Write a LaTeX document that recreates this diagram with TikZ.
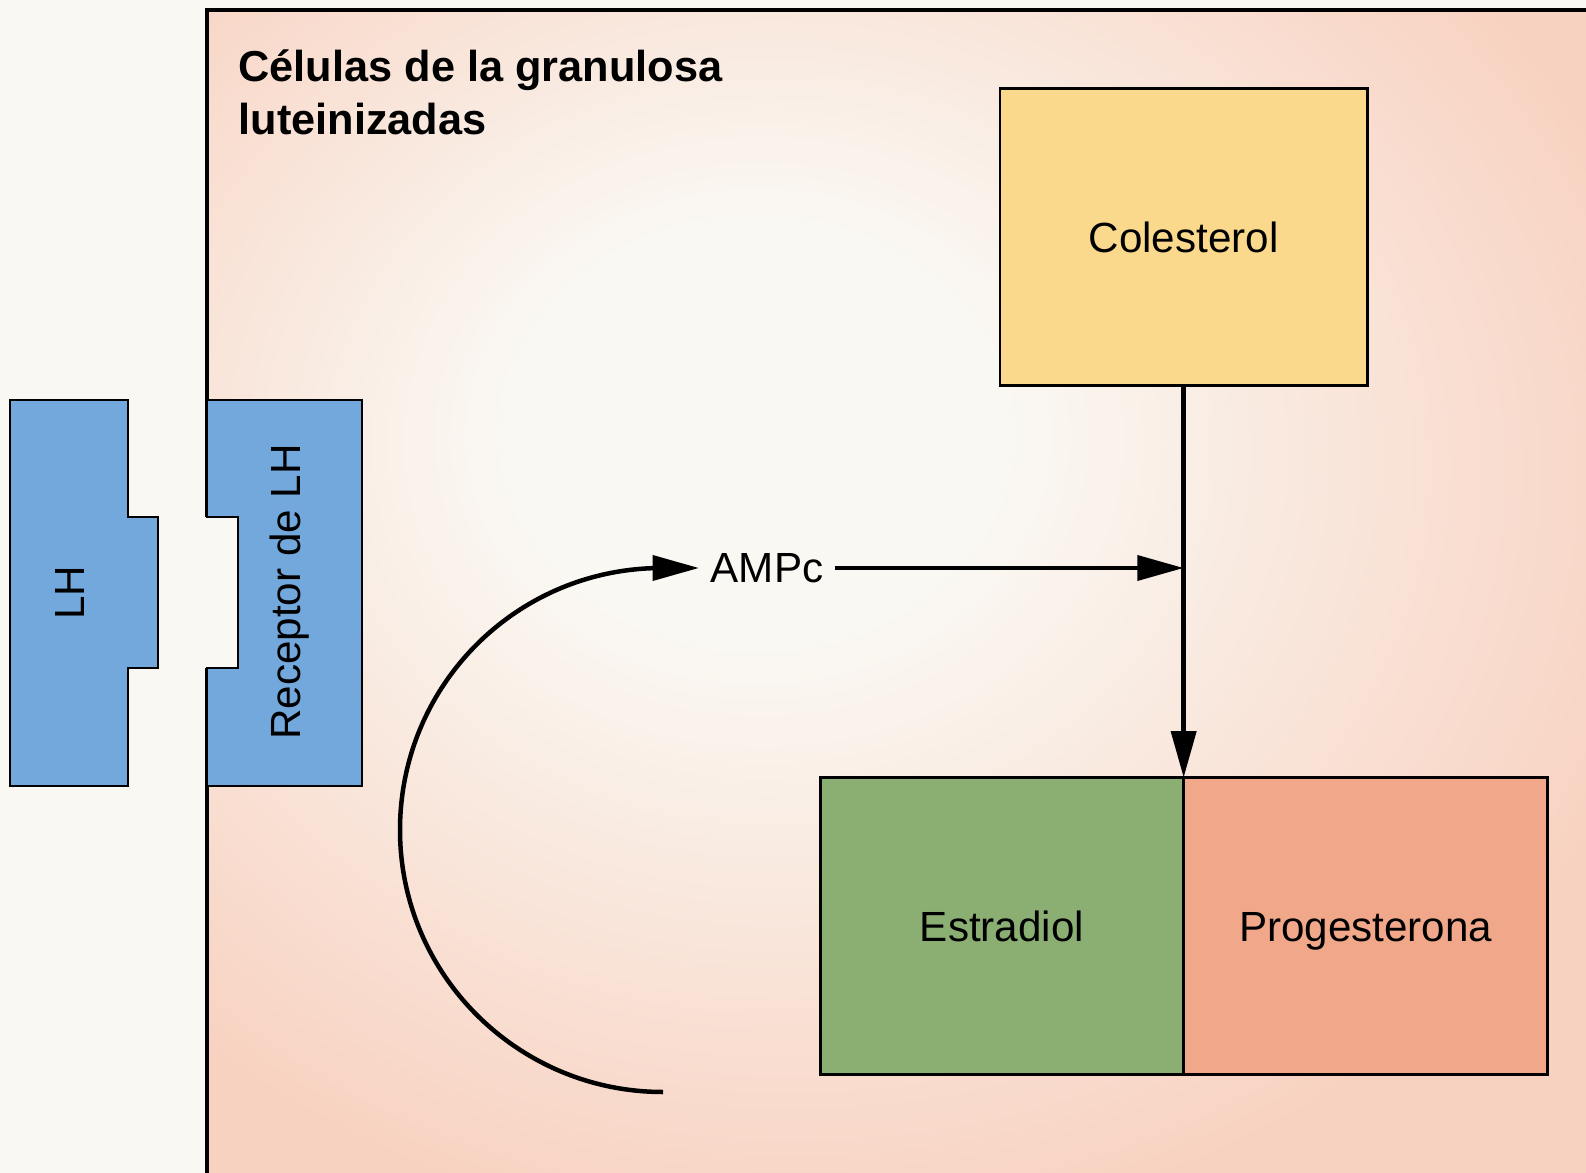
\documentclass[tikz,border=0pt]{standalone}
\usepackage{fontspec}
\setmainfont{Liberation Sans}
\usetikzlibrary{arrows.meta,positioning}
\definecolor{fondo}{RGB}{250,248,243}
\definecolor{celrosa}{RGB}{248,210,193}
\definecolor{celclaro}{RGB}{250,248,243}
\definecolor{azulLH}{RGB}{114,168,220}
\definecolor{amarillo}{RGB}{250,217,140}
\definecolor{verde}{RGB}{139,174,115}
\definecolor{salmon}{RGB}{241,168,138}
\pgfdeclareradialshading{celula}{\pgfpoint{-6bp}{8bp}}{color(0bp)=(celclaro); color(9bp)=(celclaro); color(32bp)=(celrosa); color(80bp)=(celrosa)}

\begin{document}
\begin{tikzpicture}[x=0.0125cm, y=0.0125cm,
  caja/.style={draw=black, line width=1pt, minimum width=4.55cm, minimum height=3.71cm,
    inner sep=0pt, outer sep=0pt, text height=10.7pt, text depth=0pt,
    font=\fontsize{15}{18}\selectfont},
  flecha/.style={line width=1.6pt, -{Triangle[length=0.58cm, width=0.31cm]}},
  bloque/.style={draw=black, line width=1pt, fill=azulLH},
  rotulo/.style={font=\fontsize{15}{18}\selectfont, rotate=90}]

% fondo y limites de la figura
\useasboundingbox (0,0) rectangle (1586,-1173);
\fill[fondo] (0,0) rectangle (1586,-1173);

% celula de la granulosa (sigue fuera de la figura)
\shade[shading=celula] (207,-10) rectangle (1600,-1190);
\draw[line width=1.2pt] (1600,-10) -- (207,-10) -- (207,-1190);
\node[anchor=north west, inner sep=0pt, align=left,
  font=\bfseries\fontsize{15.4}{18.8}\selectfont] (titulo) at (238,-49)
  {Células de la granulosa\\luteinizadas};

% LH y su receptor
\draw[bloque] (10,-400) -- (128,-400) -- (128,-517) -- (158,-517) -- (158,-668)
  -- (128,-668) -- (128,-786) -- (10,-786) -- cycle;
\node[rotulo] (lh) at (70,-593) {LH};
\fill[fondo] (204,-517) rectangle (238,-668); % hueco del receptor
\draw[bloque] (207,-400) -- (362,-400) -- (362,-786) -- (207,-786) -- (207,-668)
  -- (238,-668) -- (238,-517) -- (207,-517) -- cycle;
\node[rotulo] (receptor) at (290,-592) {Receptor de LH};

% esteroides
\node[caja, fill=verde, minimum width=4.54cm] (estradiol) at (1002,-926) {Estradiol};
\node[caja, fill=salmon, right=0pt of estradiol] (progesterona) {Progesterona};
\node[caja, fill=amarillo, minimum width=4.59cm, above=4.9cm of estradiol.north east] (colesterol) {Colesterol};

% AMPc
\node[font=\fontsize{15}{18}\selectfont, inner sep=4pt] (ampc) at (767,-568) {AMPc};
\coordinate (cruce) at (ampc.east -| colesterol.south);
\coordinate (inicio) at (663,-1092);

% flechas
\draw[flecha] (colesterol.south) -- (estradiol.north east);
\draw[flecha] (ampc.east) -- (cruce);
\draw[flecha] (inicio) to[out=180, in=-90] (400,-830) to[out=90, in=180] (662,-568) -- (ampc.west);

\end{tikzpicture}
\end{document}
